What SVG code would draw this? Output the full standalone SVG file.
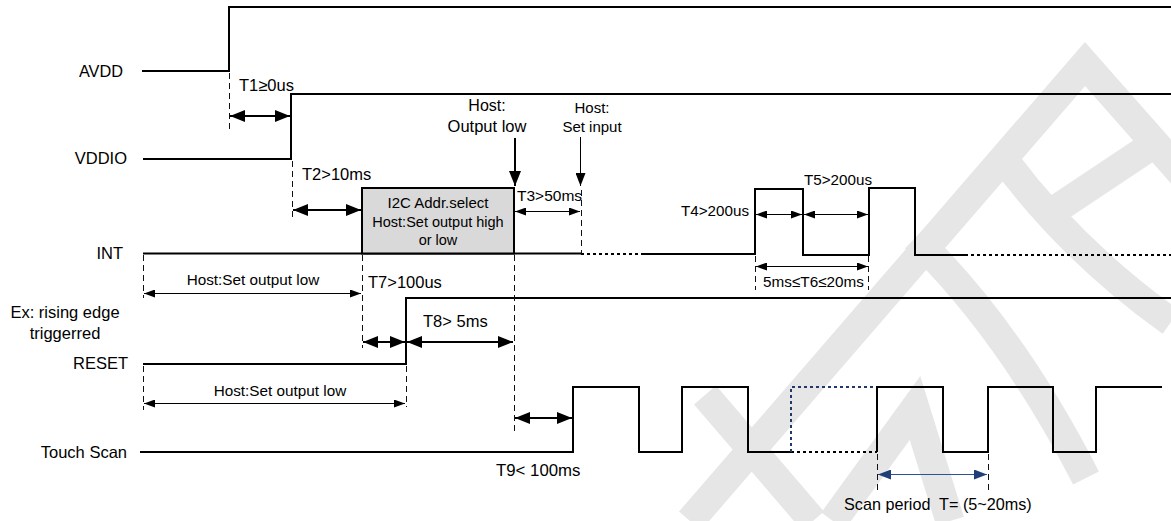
<svg xmlns="http://www.w3.org/2000/svg" width="1171" height="521" viewBox="0 0 1171 521">
<defs>
<style>
.sig{fill:none;stroke:#000;stroke-width:2;stroke-linejoin:miter}
.dash{fill:none;stroke:#111;stroke-width:1;stroke-dasharray:6 4}
.dot{fill:none;stroke:#000;stroke-width:2;stroke-dasharray:3 3}
.bdot{fill:none;stroke:#1f3a68;stroke-width:2;stroke-dasharray:3 3}
.thick{fill:none;stroke:#000;stroke-width:2;marker-start:url(#hb);marker-end:url(#hb)}
.thin{fill:none;stroke:#000;stroke-width:1;marker-start:url(#hs);marker-end:url(#hs)}
.blue{fill:none;stroke:#2f528f;stroke-width:1;marker-start:url(#hblue);marker-end:url(#hblue)}
.wm{fill:none;stroke:#e6e6e6;stroke-width:29;stroke-linejoin:miter;stroke-linecap:butt}
text{font-family:"Liberation Sans",Arial,sans-serif;fill:#000}
</style>
<marker id="hb" markerUnits="userSpaceOnUse" markerWidth="16" markerHeight="12" refX="15" refY="6" orient="auto-start-reverse"><path d="M0,0 L15,6 L0,12 Z" fill="#000"/></marker>
<marker id="hs" markerUnits="userSpaceOnUse" markerWidth="12" markerHeight="8" refX="11" refY="4" orient="auto-start-reverse"><path d="M0,0 L11,4 L0,8 Z" fill="#000"/></marker>
<marker id="hblue" markerUnits="userSpaceOnUse" markerWidth="14" markerHeight="10" refX="13" refY="5" orient="auto-start-reverse"><path d="M0,0 L13,5 L0,10 Z" fill="#1f3f78"/></marker>
<marker id="hdown" markerUnits="userSpaceOnUse" markerWidth="16" markerHeight="12" refX="15" refY="6" orient="auto"><path d="M0,0 L15,6 L0,12 Z" fill="#000"/></marker>
<marker id="hdown2" markerUnits="userSpaceOnUse" markerWidth="14" markerHeight="10" refX="13" refY="5" orient="auto"><path d="M0,0 L13,5 L0,10 Z" fill="#000"/></marker>
</defs>
<rect width="1171" height="521" fill="#fff"/>

<g id="watermark">
<path class="wm" d="M690,521 L1085,64 L1190,183"/>
<path class="wm" d="M1160,140 L1058,208"/>
<path class="wm" d="M1000,154 Q1070,250 1171,322"/>
<path class="wm" d="M915,238 Q1010,330 1086,478"/>
<path class="wm" d="M833,521 L915,408 L950,521"/>
<path class="wm" d="M705,395 L813,521"/>
</g>

<g id="labels">
<text x="123" y="77" font-size="16.3" text-anchor="end">AVDD</text>
<text x="127" y="164" font-size="16.5" text-anchor="end">VDDIO</text>
<text x="123" y="259" font-size="16.5" text-anchor="end">INT</text>
<text x="65" y="318" font-size="16.5" text-anchor="middle">Ex: rising edge</text>
<text x="65" y="339" font-size="16.5" text-anchor="middle">triggerred</text>
<text x="128" y="369" font-size="16.5" text-anchor="end">RESET</text>
<text x="127" y="458" font-size="16.5" text-anchor="end">Touch Scan</text>
</g>

<g id="AVDD"><path class="sig" d="M142,71 H229 V7 H1171"/></g>
<g id="VDDIO"><path class="sig" d="M143,159 H291 V94 H1171"/></g>
<g id="INT">
<path class="sig" d="M143,253.5 H581"/>
<path class="dot" d="M581,254 H643"/>
<path class="sig" d="M643,254 H755 V189 H803 V255 H869 V188 H915 V255 H965"/>
<path class="dot" d="M965,255 H1171"/>
</g>
<g id="i2c_box">
<rect x="362" y="188" width="152" height="65.5" fill="#d9d9d9" stroke="#000" stroke-width="2"/>
<text x="438" y="208" font-size="15" text-anchor="middle" fill="#222">I2C Addr.select</text>
<text x="438" y="227" font-size="14.5" text-anchor="middle">Host:Set output high</text>
<text x="438" y="245" font-size="14.5" text-anchor="middle">or low</text>
</g>
<g id="RESET"><path class="sig" d="M143,364 H406 V298 H1171"/></g>
<g id="TouchScan">
<path class="sig" d="M140,452 H573 V387 H639 V452 H682 V387 H748 V452 H791"/>
<path class="dot" d="M791,452 H877"/>
<path class="bdot" d="M791,452 V387 H877"/>
<path class="sig" d="M877,452 V387 H943 V452 H988 V387 H1053 V452 H1096 V387 H1162"/>
</g>

<g id="connectors">
<path class="dash" d="M229.5,73 V133"/>
<path class="dash" d="M292.5,161 V220"/>
<path class="dash" d="M143.5,255 V298"/>
<path class="dash" d="M362.5,255 V348"/>
<path class="dash" d="M514.5,255 V435"/>
<path class="dash" d="M581.5,190 V253"/>
<path class="dash" d="M755.5,256 V290"/>
<path class="dash" d="M868.5,256 V290"/>
<path class="dash" d="M143.5,366 V410"/>
<path class="dash" d="M406.5,366 V407"/>
<path class="dash" d="M877.5,454 V493"/>
<path class="dash" d="M988.5,454 V493"/>
<path class="thick" d="M230,116 H290"/>
<path class="thick" d="M293,210 H361"/>
<path class="thin" d="M515,211.5 H580" stroke="#555"/>
<path class="thin" d="M756,214.5 H802"/>
<path class="thin" d="M804,214.5 H868"/>
<path class="thin" d="M756,266.5 H868"/>
<path class="thin" d="M144,293.5 H361"/>
<path class="thick" d="M363,342 H405"/>
<path class="thick" d="M407,342 H513"/>
<path class="thin" d="M144,403.5 H405"/>
<path class="thick" d="M515,418 H572"/>
<path class="blue" d="M878,474.5 H987"/>
<path d="M515,138 V186" fill="none" stroke="#000" stroke-width="2" marker-end="url(#hdown)"/>
<path d="M580.5,137 V186" fill="none" stroke="#000" stroke-width="1" marker-end="url(#hdown2)"/>
</g>

<g id="annotations">
<text x="239" y="91" font-size="16.5">T1≥0us</text>
<text x="302" y="180" font-size="16.5">T2&gt;10ms</text>
<text x="487" y="111" font-size="16" text-anchor="middle">Host:</text>
<text x="487" y="132" font-size="16.5" text-anchor="middle">Output low</text>
<text x="592" y="113" font-size="15" text-anchor="middle">Host:</text>
<text x="592" y="132" font-size="15" text-anchor="middle">Set input</text>
<text x="517" y="201" font-size="15.5">T3&gt;50ms</text>
<text x="681" y="216" font-size="15.2">T4&gt;200us</text>
<text x="804" y="185" font-size="15.2">T5&gt;200us</text>
<text x="763" y="287" font-size="15.3">5ms≤T6≤20ms</text>
<text x="253" y="285" font-size="15.3" text-anchor="middle">Host:Set output low</text>
<text x="368" y="288" font-size="16.5">T7&gt;100us</text>
<text x="423" y="327" font-size="16.5">T8&gt; 5ms</text>
<text x="280" y="396" font-size="15.3" text-anchor="middle">Host:Set output low</text>
<text x="496" y="476" font-size="16.8">T9&lt; 100ms</text>
<text x="844" y="510" font-size="16.2" style="white-space:pre">Scan period  T= (5~20ms)</text>
</g>
</svg>
